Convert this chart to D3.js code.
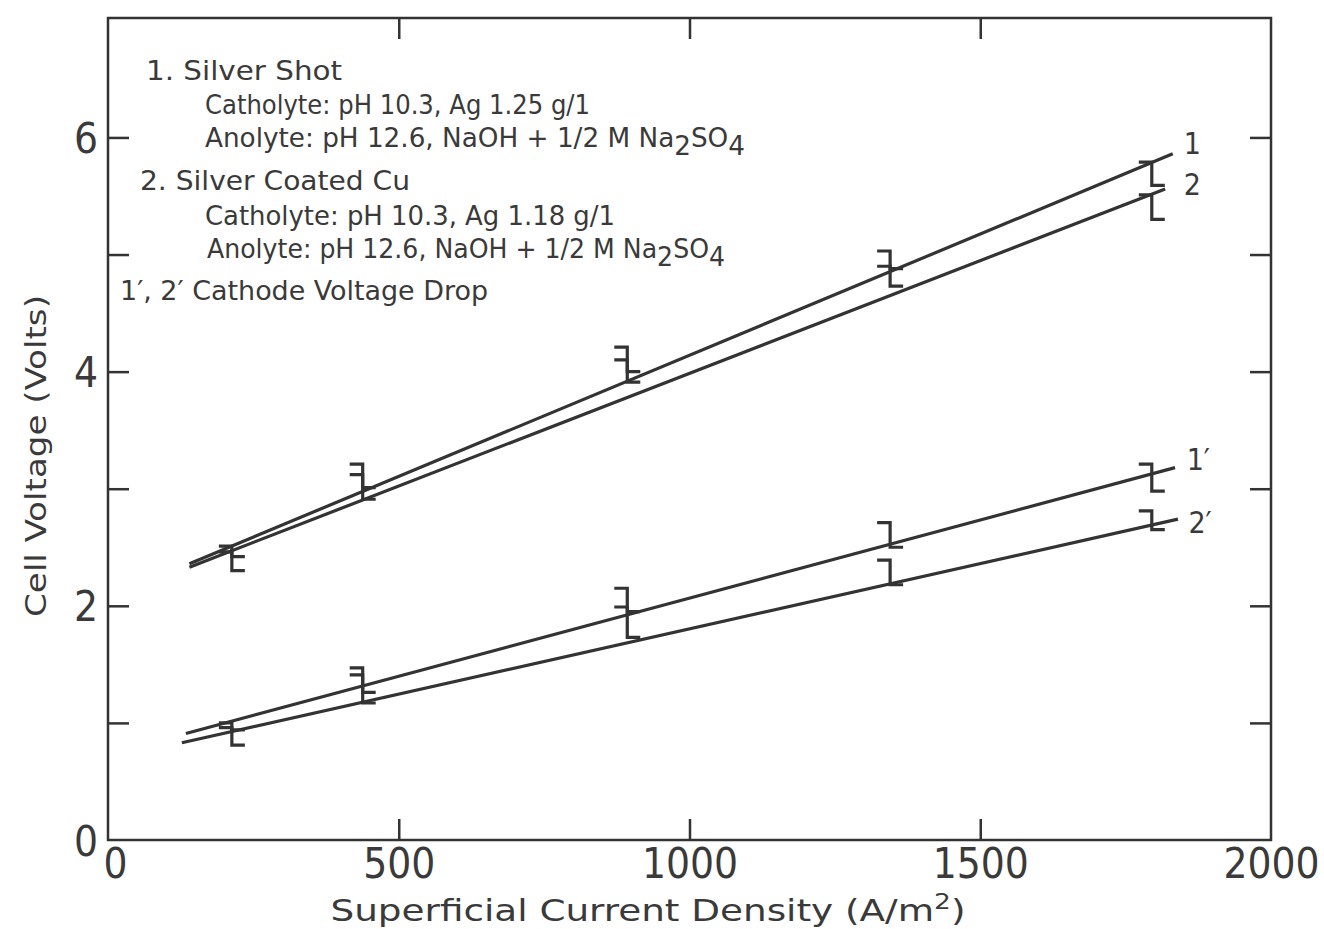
<!DOCTYPE html>
<html>
<head>
<meta charset="utf-8">
<script src="https://cdn.jsdelivr.net/npm/d3@7"></script>
<style>
  html, body { margin: 0; padding: 0; background: #fff; }
  svg { display: block; }
  text { font-family: "DejaVu Sans Condensed", "DejaVu Sans", sans-serif; font-stretch: condensed; fill: #3a3a3a; }
</style>
</head>
<body>
<svg id="chart" width="1324" height="929"></svg>
<script>
// ---------- data ----------
const xTickValues = [0, 500, 1000, 1500, 2000];
const yTickLabels = [0, 2, 4, 6];
const yMinorTicks = [1, 2, 3, 4, 5, 6];
const xInnerTicks = [500, 1000, 1500];

const pointX = [213, 438, 893, 1345, 1795];

// error bars [low, high]
const bars1  = [[2.42, 2.51], [3.01, 3.21], [4.00, 4.21], [4.88, 5.03], [5.59, 5.79]];
const bars2  = [[2.30, 2.46], [2.91, 3.12], [3.91, 4.10], [4.73, 4.90], [5.30, 5.51]];
const bars1p = [[0.94, 1.00], [1.26, 1.47], [1.95, 2.15], [2.50, 2.71], [2.98, 3.21]];
const bars2p = [[0.81, 0.96], [1.17, 1.41], [1.73, 1.99], [2.18, 2.39], [2.65, 2.81]];

// fitted straight lines [x, volts]
const line1  = [[140, 2.36], [1831, 5.86]];
const line2  = [[140, 2.33], [1818, 5.56]];
const line1p = [[134, 0.91], [1835, 3.18]];
const line2p = [[127, 0.83], [1840, 2.74]];

const curveLabels = [
  {text: "1",  x: 1850, y: 5.95},
  {text: "2",  x: 1850, y: 5.60},
  {text: "1′", x: 1855, y: 3.25},
  {text: "2′", x: 1858, y: 2.71}
];

// ---------- layout ----------
const svg = d3.select("#chart");
const ink = "#333";
const x = d3.scaleLinear().domain([0, 2000]).range([108, 1271]);
const y = d3.scaleLinear().domain([0, 7.02]).range([840, 18]);

// frame
svg.append("rect")
  .attr("x", x(0)).attr("y", y(7.02))
  .attr("width", x(2000) - x(0)).attr("height", y(0) - y(7.02))
  .attr("fill", "none").attr("stroke", ink).attr("stroke-width", 2.5);

// inward ticks
function tickAxis(axis, transform) {
  const g = svg.append("g").attr("transform", transform).call(axis);
  g.select(".domain").remove();
  g.selectAll(".tick line").attr("stroke", ink).attr("stroke-width", 2.5);
  g.selectAll(".tick text").remove();
}
tickAxis(d3.axisBottom(x).tickValues(xInnerTicks).tickSize(-21).tickFormat(""), `translate(0,${y(0)})`);
tickAxis(d3.axisTop(x).tickValues(xInnerTicks).tickSize(-21).tickFormat(""), `translate(0,${y(7.02)})`);
tickAxis(d3.axisLeft(y).tickValues(yMinorTicks).tickSize(-21).tickFormat(""), `translate(${x(0)},0)`);
tickAxis(d3.axisRight(y).tickValues(yMinorTicks).tickSize(-21).tickFormat(""), `translate(${x(2000)},0)`);

// tick labels
const xl = svg.append("g").attr("transform", `translate(0,${y(0)})`)
  .call(d3.axisBottom(x).tickValues(xTickValues).tickSize(0).tickPadding(8).tickFormat(d3.format("d")));
xl.select(".domain").remove();
xl.selectAll(".tick text").attr("font-size", 42).attr("fill", "#3a3a3a")
  .attr("font-family", "DejaVu Sans Condensed, DejaVu Sans, sans-serif")
  .attr("dy", "0.72em")
  .attr("dx", d => d === 0 ? 7 : 0);

const yl = svg.append("g").attr("transform", `translate(${x(0)},0)`)
  .call(d3.axisLeft(y).tickValues(yTickLabels).tickSize(0).tickPadding(10).tickFormat(d3.format("d")));
yl.select(".domain").remove();
yl.selectAll(".tick text").attr("font-size", 42).attr("fill", "#3a3a3a")
  .attr("font-family", "DejaVu Sans Condensed, DejaVu Sans, sans-serif")
  .attr("dy", "0.36em");

// axis titles
const xt = svg.append("text").attr("x", 648).attr("y", 921).attr("text-anchor", "middle")
  .attr("font-size", 31).attr("textLength", 635).attr("lengthAdjust", "spacingAndGlyphs");
xt.append("tspan").text("Superficial Current Density (A/m");
xt.append("tspan").attr("font-size", 22).attr("dy", -12).text("2");
xt.append("tspan").attr("dy", 12).text(")");

svg.append("text").attr("transform", `translate(46,456) rotate(-90)`)
  .attr("text-anchor", "middle").attr("font-size", 29)
  .attr("textLength", 322).attr("lengthAdjust", "spacingAndGlyphs")
  .text("Cell Voltage (Volts)");

// lines
const lineGen = d3.line().x(d => x(d[0])).y(d => y(d[1]));
[line1, line2, line1p, line2p].forEach(l => {
  svg.append("path").attr("d", lineGen(l)).attr("fill", "none")
    .attr("stroke", ink).attr("stroke-width", 3.2);
});

// error bars: top cap to the left, bottom cap to the right
const cap = 13;
[bars1, bars2, bars1p, bars2p].forEach(set => {
  svg.append("g").selectAll("path").data(set).join("path")
    .attr("d", (d, i) => {
      const px = x(pointX[i]);
      return `M${px - cap},${y(d[1])}H${px}V${y(d[0])}H${px + cap}`;
    })
    .attr("fill", "none").attr("stroke", ink).attr("stroke-width", 3.2);
});

// curve labels
svg.append("g").selectAll("text").data(curveLabels).join("text")
  .attr("x", d => x(d.x)).attr("y", d => y(d.y)).attr("dy", "0.36em")
  .attr("font-size", 30).text(d => d.text);

// legend
const legend = [
  {x: 146, y: 80,  len: 196, parts: [["1.  Silver  Shot"]]},
  {x: 205, y: 114, len: 385, parts: [["Catholyte: pH 10.3,  Ag 1.25 g/1"]]},
  {x: 205, y: 147, len: 540, parts: [["Anolyte: pH 12.6, NaOH + 1/2 M Na"], ["2", "sub"], ["SO"], ["4", "sub"]]},
  {x: 140, y: 190, len: 270, parts: [["2. Silver Coated Cu"]]},
  {x: 205, y: 225, len: 410, parts: [["Catholyte: pH 10.3, Ag 1.18 g/1"]]},
  {x: 207, y: 258, len: 518, parts: [["Anolyte: pH 12.6, NaOH + 1/2 M Na"], ["2", "sub"], ["SO"], ["4", "sub"]]},
  {x: 120, y: 300, len: 368, parts: [["1′, 2′  Cathode  Voltage  Drop"]]}
];
legend.forEach(L => {
  const t = svg.append("text").attr("x", L.x).attr("y", L.y).attr("font-size", 27)
    .attr("textLength", L.len).attr("lengthAdjust", "spacingAndGlyphs");
  let sub = false;
  L.parts.forEach(p => {
    const ts = t.append("tspan").text(p[0]);
    if (p[1] === "sub") { ts.attr("dy", sub ? 0 : 8); sub = true; }
    else if (sub) { ts.attr("dy", -8); sub = false; }
  });
});
</script>
</body>
</html>
